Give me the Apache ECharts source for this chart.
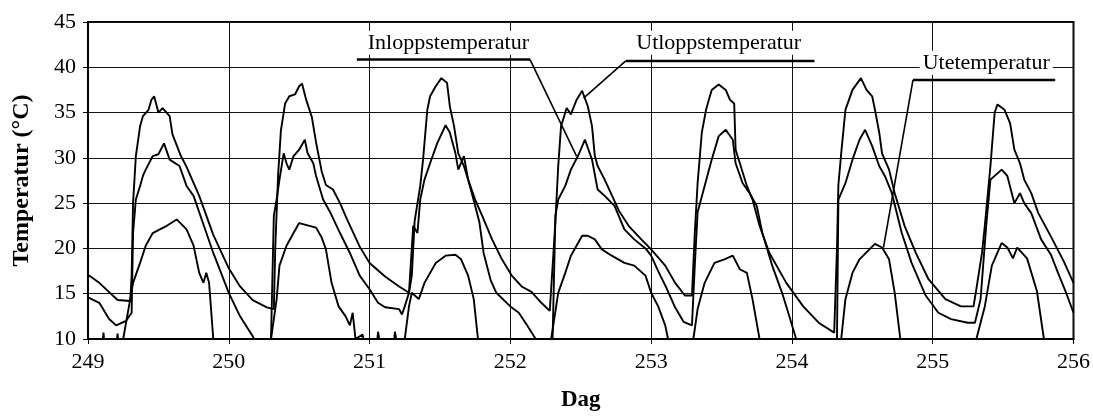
<!DOCTYPE html>
<html>
<head>
<meta charset="utf-8">
<script src="https://cdn.jsdelivr.net/npm/echarts@6/dist/echarts.min.js"></script>
<style>
  html, body { margin: 0; padding: 0; background: #fff; }
  #chart { width: 1093px; height: 417px; }
</style>
</head>
<body>
<div id="chart"></div>
<script>
// Utloppstemperatur
const utloppDag = [249.00,249.08,249.21,249.30,249.31,249.32,249.34,249.37,249.39,249.43,
  249.45,249.47,249.50,249.53,249.58,249.60,249.66,249.70,249.79,249.89,
  250.00,250.08,250.17,250.27,250.32,250.33,250.35,250.37,250.40,250.43,
  250.47,250.50,250.52,250.55,250.59,250.62,250.66,250.69,250.74,250.79,
  250.84,250.93,251.00,251.11,251.21,251.28,251.30,251.32,251.36,251.38,
  251.41,251.43,251.47,251.51,251.55,251.57,251.60,251.63,251.67,251.70,
  251.75,251.80,251.87,251.94,252.01,252.08,252.15,252.22,252.28,252.30,
  252.32,252.34,252.36,252.40,252.43,252.47,252.51,252.55,252.58,252.60,
  252.62,252.67,252.77,252.84,252.93,253.00,253.10,253.17,253.24,253.29,
  253.31,253.33,253.36,253.39,253.43,253.48,253.53,253.56,253.59,253.60,
  253.63,253.68,253.72,253.77,253.84,253.96,254.08,254.19,254.30,254.32,
  254.33,254.35,254.38,254.43,254.49,254.53,254.57,254.59,254.62,254.64,
  254.69,254.73,254.80,254.88,254.97,255.09,255.20,255.29,255.31,255.35,
  255.37,255.41,255.44,255.46,255.51,255.55,255.58,255.62,255.65,255.70,
  255.75,255.84,255.93,256.00]
const utloppTemp = [17.1,16.2,14.3,14.2,17,25,30.2,33.5,34.6,35.3,
  36.4,36.8,35.0,35.5,34.6,32.6,30.2,29.0,25.8,21.5,
  17.8,15.8,14.3,13.5,13.3,20,28,33,36.0,36.8,
  37.0,37.9,38.2,36.4,34.5,31.7,28.5,27.0,26.5,25.0,
  23.2,20.2,18.4,16.9,15.8,15.1,17,23,26.9,29.8,
  35.3,36.8,37.9,38.8,38.3,35.7,33.5,30.5,29.1,27.6,
  25.4,23.6,21.0,18.8,17.0,15.8,15.2,14.0,13.1,18,
  23,29.1,33.5,35.5,34.8,36.4,37.4,35.7,33.5,30.2,
  29.1,27.6,24.2,22.5,21.0,19.9,18.1,16.2,14.8,14.8,
  21.7,27.2,32.8,35.3,37.5,38.1,37.5,36.4,36.0,30.9,
  29.4,26.9,25.4,22.5,19.5,16.2,13.6,11.8,10.7,20,
  27,30.5,35.3,37.5,38.8,37.5,36.8,35.3,32.8,30.5,
  28.7,26.1,22.5,19.5,16.6,14.4,13.6,13.6,15.5,19.5,
  22.5,29.1,35.0,35.9,35.3,33.8,30.9,29.4,27.6,26.1,
  23.9,21.3,18.6,16.2]

// Inloppstemperatur
const inloppDag = [249.00,249.08,249.15,249.20,249.27,249.31,249.32,249.34,249.37,249.39,
  249.41,249.46,249.50,249.54,249.58,249.65,249.70,249.75,249.79,249.89,
  250.00,250.08,250.17,250.21,250.28,250.30,250.32,250.34,250.36,250.39,
  250.41,250.43,250.46,250.50,250.54,250.56,250.60,250.62,250.67,250.72,
  250.79,250.86,250.93,251.00,251.06,251.11,251.21,251.23,251.25,251.28,
  251.31,251.34,251.36,251.39,251.43,251.48,251.54,251.57,251.61,251.63,
  251.67,251.70,251.75,251.78,251.81,251.86,251.90,252.00,252.06,252.12,
  252.18,252.27,252.30,252.32,252.34,252.39,252.43,252.48,252.53,252.58,
  252.62,252.67,252.74,252.81,252.88,252.96,253.00,253.05,253.11,253.17,
  253.23,253.29,253.31,253.33,253.38,253.43,253.48,253.53,253.58,253.60,
  253.65,253.70,253.75,253.79,253.86,253.93,253.98,254.03,254.08,254.30,
  254.32,254.33,254.38,254.43,254.48,254.52,254.57,254.62,254.66,254.71,
  254.78,254.85,254.95,255.04,255.13,255.25,255.30,255.34,255.38,255.41,
  255.49,255.53,255.58,255.62,255.65,255.70,255.77,255.84,255.89,255.95,
  256.00]
const inloppTemp = [14.6,14.0,12.2,11.5,12.0,12.9,21.7,25.4,26.9,28.0,
  28.7,30.2,30.4,31.6,29.8,29.1,26.9,25.8,24.0,19.5,
  15.1,12.5,10.3,9,9,10,23.6,25.4,27.6,30.5,
  29.4,28.7,30.2,30.9,32.0,30.5,29.4,28.0,25.4,24.0,
  21.7,19.5,17.0,15.5,14.0,13.5,13.3,12.7,13.6,15.1,
  22.5,21.7,25.4,27.6,29.4,31.6,33.6,32.8,30.5,28.7,
  30.2,27.6,24.7,22.9,19.5,16.5,15.1,13.6,12.9,11.5,
  10.0,9,10,23.6,25.4,26.9,28.7,30.2,32.0,29.8,
  26.5,25.8,24.7,22.1,21.0,20.0,19.2,17.5,15.6,13.5,
  11.9,11.5,18.1,24.0,26.9,29.8,32.4,33.1,32.0,29.4,
  27.2,26.1,24.7,21.7,18.1,15.1,12.6,10.0,9,9,
  10,25.4,27.2,29.8,32.0,33.1,31.3,29.1,28.0,26.1,
  21.7,18.4,14.8,12.9,12.2,11.8,11.8,14.4,22.5,27.6,
  28.7,28.0,25.0,26.1,25.0,23.9,21.0,19.3,17.3,15.0,
  12.9]

// Utetemperatur
const uteDag = [249.00,249.10,249.11,249.12,249.20,249.21,249.22,249.25,249.30,249.32,
  249.37,249.41,249.46,249.51,249.56,249.63,249.70,249.75,249.79,249.82,
  249.84,249.86,249.89,249.91,250.29,250.30,250.34,250.36,250.41,250.46,
  250.50,250.62,250.66,250.69,250.73,250.78,250.83,250.86,250.88,250.90,
  250.95,250.97,251.05,251.06,251.08,251.17,251.18,251.20,251.25,251.28,
  251.30,251.35,251.39,251.47,251.54,251.61,251.65,251.70,251.74,251.77,
  251.80,252.28,252.29,252.34,252.39,252.43,252.51,252.55,252.60,252.65,
  252.72,252.81,252.88,252.96,253.00,253.05,253.10,253.12,253.14,253.29,
  253.30,253.33,253.38,253.45,253.52,253.58,253.63,253.68,253.72,253.77,
  253.78,254.33,254.35,254.38,254.43,254.48,254.55,254.59,254.64,254.69,
  254.73,254.77,254.78,255.30,255.31,255.37,255.42,255.49,255.53,255.57,
  255.60,255.67,255.74,255.79,255.81,256.00]
const uteTemp = [9,9,10.7,9,9,10.6,9,10,14.4,16.2,
  18.4,20.3,21.7,22.1,22.5,23.2,22.1,20.3,17.3,16.2,
  17.3,16.2,10,9,9,10,14.4,18.1,20.3,21.7,
  22.8,22.3,21.2,19.9,16.2,13.6,12.5,11.5,12.9,10,
  10.5,9,9,10.8,9,9,10.8,9,10,13.6,
  15.1,14.4,16.2,18.4,19.2,19.3,18.8,17.0,14.4,10,
  9,9,10,15.1,17.3,19.2,21.4,21.4,21.0,19.9,
  19.2,18.4,18.1,17.0,15.1,13.6,11.5,10,9,9,
  10,13.3,16.2,18.4,18.8,19.2,17.7,17.3,14.4,10,
  9,9,10,14.4,17.3,18.8,19.9,20.5,20.1,18.8,
  15.1,10,9,9,10,13.6,18.1,20.6,20.1,18.9,
  20.1,18.9,15.3,10,9,9]

const xTicks = [249, 250, 251, 252, 253, 254, 255, 256]
const yTicks = [10, 15, 20, 25, 30, 35, 40, 45]

const FONT = '"Liberation Serif", "Times New Roman", serif'

const zip = (xs, ys) => xs.map((x, i) => [x, ys[i]])

// annotation boxes (label text + underline + pointer), in data units
const notes = [
  { text: 'Inloppstemperatur', at: [251.56, 42.7], line: [[250.91, 40.85], [252.14, 40.85]], from: 1, target: [252.47, 30.2] },
  { text: 'Utloppstemperatur', at: [253.48, 42.7], line: [[252.82, 40.7], [254.16, 40.7]], from: 0, target: [252.52, 36.6] },
  { text: 'Utetemperatur', at: [255.38, 40.5], line: [[254.86, 38.6], [255.87, 38.6]], from: 0, target: [254.65, 20.1] }
]

const chart = echarts.init(document.getElementById('chart'))

const lineSeries = (name, xs, ys) => ({
  name: name,
  type: 'line',
  data: zip(xs, ys),
  showSymbol: false,
  clip: true,
  lineStyle: { color: '#000', width: 1.9 },
  z: 3
})

chart.setOption({
  animation: false,
  backgroundColor: '#fff',
  grid: { left: 88, right: 17, top: 22, bottom: 77, show: true, borderColor: '#000', borderWidth: 2, backgroundColor: 'transparent' },
  xAxis: {
    type: 'value',
    min: 249, max: 256, interval: 1,
    name: 'Dag',
    nameLocation: 'middle',
    nameGap: 50,
    nameTextStyle: { fontFamily: FONT, fontWeight: 'bold', fontSize: 23, color: '#000' },
    axisLine: { lineStyle: { color: '#000', width: 2 } },
    axisTick: { show: true, length: 5, lineStyle: { color: '#000' } },
    axisLabel: { fontFamily: FONT, fontSize: 22, color: '#000', margin: 12,
      formatter: v => xTicks.includes(v) ? String(v) : '' },
    splitLine: { show: true, lineStyle: { color: '#111', width: 1 } }
  },
  yAxis: {
    type: 'value',
    min: 10, max: 45, interval: 5,
    name: 'Temperatur (°C)',
    nameLocation: 'middle',
    nameGap: 54,
    nameTextStyle: { fontFamily: FONT, fontWeight: 'bold', fontSize: 24, color: '#000' },
    axisLine: { show: true, lineStyle: { color: '#000', width: 2 } },
    axisTick: { show: true, length: 5, lineStyle: { color: '#000' } },
    axisLabel: { fontFamily: FONT, fontSize: 22, color: '#000', margin: 12,
      formatter: v => yTicks.includes(v) ? String(v) : '' },
    splitLine: { show: true, lineStyle: { color: '#111', width: 1 } }
  },
  series: [
    lineSeries('Utloppstemperatur', utloppDag, utloppTemp),
    lineSeries('Inloppstemperatur', inloppDag, inloppTemp),
    lineSeries('Utetemperatur', uteDag, uteTemp)
  ]
})

// labels with leader lines, placed through the axes
const px = p => chart.convertToPixel({ gridIndex: 0 }, p)
const graphics = []
notes.forEach(n => {
  const a = px(n.line[0]), b = px(n.line[1])
  const s = px(n.line[n.from]), t = px(n.target)
  const c = px(n.at)
  graphics.push({
    type: 'text', z: 10,
    x: c[0], y: c[1],
    style: { text: n.text, fontFamily: FONT, fontSize: 22, fill: '#000',
      align: 'center', verticalAlign: 'middle', backgroundColor: '#fff', padding: [1, 3] }
  })
  graphics.push({
    type: 'line', z: 10,
    shape: { x1: a[0], y1: a[1], x2: b[0], y2: b[1] },
    style: { stroke: '#000', lineWidth: 2.5 }
  })
  graphics.push({
    type: 'line', z: 10,
    shape: { x1: s[0], y1: s[1], x2: t[0], y2: t[1] },
    style: { stroke: '#000', lineWidth: 1.6 }
  })
})
chart.setOption({ graphic: graphics })
</script>
</body>
</html>
